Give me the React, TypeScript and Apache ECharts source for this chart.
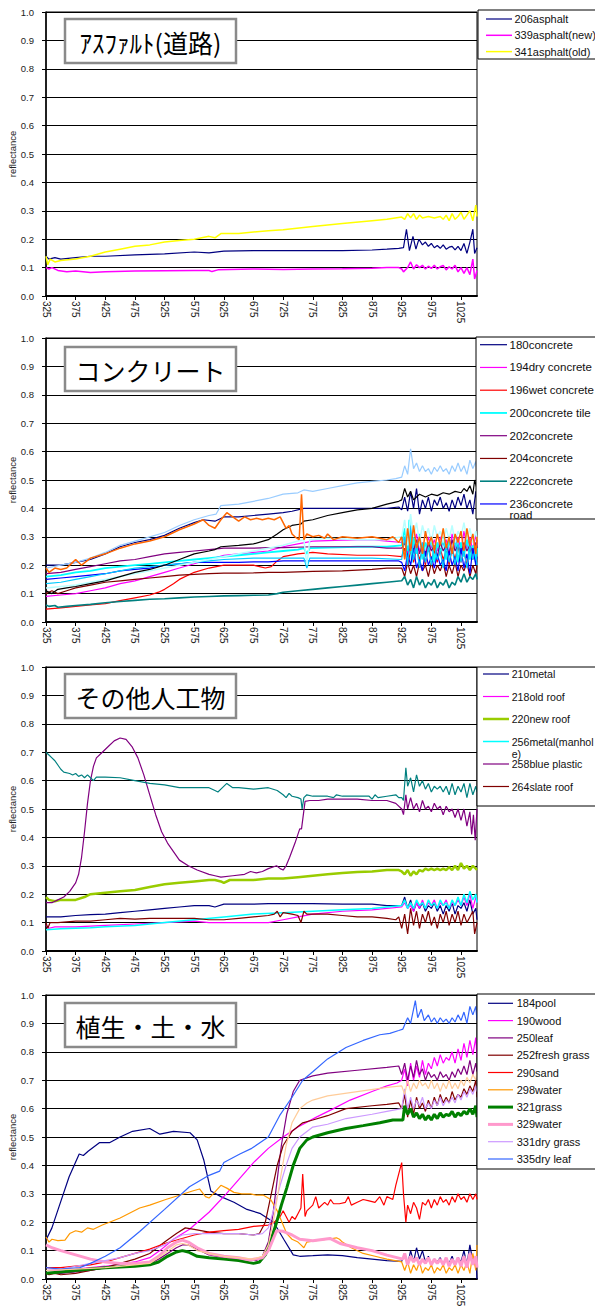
import React, { useEffect, useRef } from "react";
import * as echarts from "echarts";

// ---------- tick labels ----------
const X_TICKS = [325, 375, 425, 475, 525, 575, 625, 675, 725, 775, 825, 875, 925, 975, 1025];
const X_MIN = 325;
const X_MAX = 1052;

// ---------- Panel 1: asphalt ----------
const A206 = [325,0.14, 330,0.13, 340,0.135, 350,0.13, 375,0.135, 400,0.14, 425,0.14, 475,0.145, 525,0.148, 575,0.155, 600,0.152, 625,0.158, 675,0.16, 725,0.16, 775,0.16, 825,0.16, 875,0.162, 900,0.165, 920,0.168, 928,0.17, 933,0.235, 938,0.16, 944,0.21, 949,0.165, 954,0.2, 960,0.18, 965,0.19, 970,0.175, 975,0.185, 980,0.17, 985,0.178, 990,0.168, 995,0.18, 1000,0.165, 1005,0.172, 1010,0.175, 1015,0.162, 1020,0.175, 1025,0.16, 1030,0.185, 1035,0.15, 1040,0.19, 1045,0.235, 1048,0.15, 1052,0.17];
const A339 = [325,0.1, 330,0.095, 335,0.1, 345,0.09, 360,0.085, 375,0.088, 400,0.083, 425,0.085, 475,0.088, 525,0.089, 575,0.09, 600,0.09, 605,0.086, 615,0.092, 675,0.095, 725,0.093, 775,0.095, 825,0.096, 875,0.098, 900,0.1, 920,0.1, 925,0.095, 928,0.085, 935,0.1, 940,0.12, 945,0.095, 950,0.11, 955,0.1, 960,0.108, 965,0.095, 970,0.105, 975,0.097, 980,0.108, 985,0.095, 990,0.103, 995,0.108, 1000,0.092, 1005,0.103, 1010,0.095, 1015,0.108, 1020,0.085, 1025,0.1, 1030,0.08, 1035,0.1, 1040,0.075, 1045,0.13, 1048,0.06, 1052,0.09];
const A341 = [325,0.14, 328,0.11, 332,0.13, 340,0.12, 350,0.125, 375,0.13, 400,0.14, 425,0.155, 450,0.165, 475,0.175, 500,0.18, 525,0.19, 550,0.195, 575,0.2, 600,0.21, 610,0.205, 620,0.22, 650,0.22, 675,0.225, 700,0.23, 725,0.233, 775,0.245, 825,0.255, 875,0.265, 900,0.27, 925,0.278, 930,0.27, 935,0.29, 940,0.275, 945,0.29, 950,0.27, 955,0.285, 960,0.275, 970,0.28, 980,0.275, 990,0.28, 995,0.27, 1000,0.285, 1005,0.265, 1010,0.29, 1015,0.27, 1020,0.28, 1025,0.295, 1030,0.27, 1035,0.285, 1040,0.3, 1045,0.265, 1050,0.32, 1052,0.28];

// ---------- Panel 2: concrete ----------
const C180 = [325,0.2, 350,0.2, 375,0.21, 400,0.22, 425,0.24, 450,0.265, 475,0.28, 500,0.29, 525,0.305, 550,0.33, 575,0.35, 590,0.36, 610,0.355, 625,0.37, 650,0.37, 675,0.375, 700,0.38, 725,0.385, 740,0.39, 760,0.4, 800,0.4, 850,0.4, 900,0.4, 920,0.405, 925,0.395, 930,0.44, 935,0.39, 940,0.46, 945,0.4, 950,0.47, 955,0.38, 960,0.43, 965,0.4, 970,0.44, 975,0.39, 980,0.43, 985,0.41, 990,0.44, 995,0.4, 1000,0.42, 1005,0.39, 1010,0.43, 1015,0.4, 1020,0.44, 1025,0.41, 1030,0.45, 1035,0.4, 1040,0.43, 1045,0.38, 1050,0.46, 1052,0.42];
const C194 = [325,0.09, 350,0.095, 375,0.1, 400,0.11, 425,0.12, 450,0.135, 475,0.145, 500,0.16, 525,0.175, 550,0.19, 575,0.205, 600,0.22, 625,0.235, 650,0.24, 675,0.245, 700,0.25, 725,0.265, 750,0.275, 775,0.285, 825,0.288, 875,0.29, 900,0.285, 925,0.28, 930,0.3, 935,0.24, 940,0.29, 945,0.26, 950,0.31, 955,0.25, 960,0.28, 965,0.24, 970,0.3, 975,0.26, 980,0.29, 985,0.25, 990,0.3, 995,0.27, 1000,0.29, 1005,0.24, 1010,0.31, 1015,0.26, 1020,0.3, 1025,0.25, 1030,0.32, 1035,0.26, 1040,0.3, 1045,0.25, 1050,0.31, 1052,0.27];
const C196 = [325,0.045, 350,0.05, 375,0.055, 400,0.06, 425,0.065, 450,0.075, 475,0.085, 500,0.095, 515,0.105, 525,0.115, 540,0.135, 550,0.15, 575,0.175, 600,0.19, 625,0.2, 650,0.2, 675,0.2, 685,0.195, 695,0.19, 705,0.195, 715,0.215, 725,0.23, 750,0.24, 775,0.245, 800,0.24, 850,0.235, 900,0.235, 925,0.23, 930,0.26, 935,0.2, 940,0.25, 945,0.21, 950,0.26, 955,0.22, 960,0.25, 965,0.2, 970,0.27, 975,0.22, 980,0.25, 985,0.21, 990,0.26, 995,0.22, 1000,0.25, 1005,0.2, 1010,0.26, 1015,0.22, 1020,0.27, 1025,0.21, 1030,0.25, 1035,0.2, 1040,0.26, 1045,0.22, 1050,0.25, 1052,0.21];
const C200 = [325,0.16, 350,0.165, 375,0.175, 400,0.18, 425,0.19, 450,0.195, 475,0.2, 500,0.205, 525,0.21, 550,0.215, 575,0.22, 600,0.225, 625,0.23, 650,0.235, 675,0.24, 700,0.245, 725,0.25, 750,0.255, 760,0.26, 765,0.24, 770,0.26, 800,0.262, 850,0.265, 900,0.265, 925,0.27, 930,0.33, 935,0.25, 938,0.36, 942,0.21, 945,0.3, 950,0.24, 955,0.31, 960,0.22, 965,0.28, 970,0.25, 975,0.3, 980,0.21, 985,0.28, 990,0.24, 995,0.3, 1000,0.22, 1005,0.29, 1010,0.24, 1015,0.3, 1020,0.21, 1025,0.28, 1030,0.23, 1035,0.3, 1040,0.22, 1045,0.27, 1050,0.21, 1052,0.26];
const C202 = [325,0.17, 350,0.175, 375,0.185, 400,0.195, 425,0.205, 450,0.215, 475,0.22, 500,0.23, 525,0.24, 550,0.245, 575,0.25, 600,0.255, 625,0.26, 650,0.26, 675,0.26, 700,0.262, 725,0.262, 775,0.265, 825,0.265, 875,0.265, 900,0.26, 925,0.26, 930,0.28, 935,0.23, 940,0.27, 945,0.25, 950,0.29, 955,0.24, 960,0.27, 965,0.23, 970,0.28, 975,0.25, 980,0.27, 985,0.23, 990,0.28, 995,0.25, 1000,0.27, 1005,0.24, 1010,0.29, 1015,0.25, 1020,0.27, 1025,0.24, 1030,0.28, 1035,0.25, 1040,0.27, 1045,0.24, 1050,0.28, 1052,0.26];
const C204 = [325,0.1, 335,0.11, 345,0.1, 360,0.11, 375,0.12, 400,0.13, 425,0.14, 450,0.145, 475,0.15, 500,0.155, 525,0.16, 550,0.165, 575,0.168, 600,0.17, 625,0.172, 650,0.172, 675,0.173, 700,0.175, 725,0.175, 775,0.178, 825,0.18, 875,0.185, 900,0.19, 925,0.19, 930,0.16, 935,0.21, 940,0.17, 945,0.2, 950,0.16, 955,0.21, 960,0.18, 965,0.2, 970,0.16, 975,0.21, 980,0.17, 985,0.2, 990,0.18, 995,0.21, 1000,0.16, 1005,0.2, 1010,0.17, 1015,0.21, 1020,0.16, 1025,0.2, 1030,0.18, 1035,0.21, 1040,0.16, 1045,0.2, 1050,0.17, 1052,0.2];
const C222 = [325,0.06, 330,0.055, 340,0.058, 345,0.052, 360,0.055, 375,0.058, 400,0.062, 425,0.068, 450,0.072, 475,0.076, 500,0.08, 525,0.082, 550,0.085, 575,0.088, 600,0.09, 625,0.092, 650,0.093, 675,0.094, 700,0.095, 715,0.1, 725,0.105, 750,0.11, 775,0.115, 800,0.12, 825,0.125, 850,0.13, 875,0.135, 900,0.14, 925,0.145, 930,0.16, 935,0.13, 940,0.15, 945,0.12, 950,0.16, 955,0.13, 960,0.15, 965,0.12, 970,0.14, 975,0.13, 980,0.15, 985,0.12, 990,0.14, 995,0.13, 1000,0.15, 1005,0.12, 1010,0.14, 1015,0.13, 1020,0.16, 1025,0.14, 1030,0.17, 1035,0.14, 1040,0.16, 1045,0.15, 1050,0.17, 1052,0.15];
const C236 = [325,0.15, 350,0.155, 375,0.16, 400,0.165, 425,0.17, 450,0.18, 475,0.185, 500,0.19, 525,0.2, 550,0.205, 575,0.21, 600,0.21, 625,0.21, 650,0.21, 675,0.212, 700,0.212, 725,0.215, 775,0.215, 825,0.215, 875,0.215, 920,0.215, 925,0.21, 930,0.18, 935,0.24, 940,0.2, 945,0.26, 950,0.19, 955,0.22, 960,0.18, 965,0.25, 970,0.2, 975,0.23, 980,0.19, 985,0.24, 990,0.2, 995,0.22, 1000,0.18, 1005,0.25, 1010,0.2, 1015,0.23, 1020,0.18, 1025,0.26, 1030,0.19, 1035,0.24, 1040,0.17, 1045,0.26, 1050,0.2, 1052,0.23];
const C_ORANGE = [325,0.19, 330,0.175, 340,0.19, 350,0.185, 360,0.19, 370,0.21, 375,0.22, 385,0.2, 400,0.225, 425,0.24, 450,0.26, 475,0.275, 500,0.285, 525,0.3, 550,0.325, 575,0.345, 590,0.36, 600,0.34, 610,0.33, 620,0.36, 630,0.385, 640,0.37, 650,0.355, 660,0.37, 670,0.36, 680,0.365, 690,0.36, 700,0.365, 710,0.36, 720,0.37, 725,0.35, 730,0.33, 735,0.34, 740,0.31, 745,0.3, 752,0.29, 756,0.45, 760,0.29, 765,0.31, 775,0.3, 785,0.305, 795,0.295, 800,0.31, 810,0.29, 825,0.3, 850,0.295, 875,0.3, 900,0.29, 910,0.3, 920,0.28, 925,0.3, 930,0.22, 935,0.33, 940,0.25, 945,0.34, 950,0.26, 955,0.3, 960,0.24, 965,0.32, 970,0.27, 975,0.3, 980,0.25, 985,0.31, 990,0.27, 995,0.33, 1000,0.26, 1005,0.3, 1010,0.24, 1015,0.31, 1020,0.28, 1025,0.32, 1030,0.25, 1035,0.33, 1040,0.27, 1045,0.31, 1050,0.24, 1052,0.3];
const C_PALEBLUE = [325,0.19, 350,0.2, 375,0.21, 400,0.225, 425,0.245, 450,0.27, 475,0.285, 500,0.3, 525,0.315, 550,0.34, 575,0.36, 600,0.375, 612,0.38, 620,0.41, 650,0.415, 675,0.425, 700,0.435, 725,0.45, 750,0.455, 760,0.465, 775,0.46, 800,0.47, 825,0.48, 850,0.49, 875,0.495, 900,0.5, 915,0.505, 925,0.51, 930,0.55, 935,0.52, 940,0.61, 945,0.54, 950,0.56, 955,0.53, 960,0.55, 965,0.53, 970,0.54, 975,0.52, 980,0.545, 985,0.53, 990,0.55, 995,0.53, 1000,0.54, 1005,0.52, 1010,0.55, 1015,0.53, 1020,0.56, 1025,0.53, 1030,0.55, 1035,0.52, 1040,0.57, 1045,0.54, 1050,0.565, 1052,0.53];
const C_BLACK = [325,0.11, 335,0.1, 345,0.115, 360,0.12, 375,0.125, 400,0.135, 425,0.145, 450,0.16, 475,0.175, 500,0.185, 525,0.2, 550,0.22, 575,0.24, 600,0.25, 610,0.255, 620,0.265, 650,0.27, 675,0.275, 700,0.29, 715,0.31, 725,0.325, 740,0.34, 755,0.345, 760,0.355, 775,0.36, 800,0.375, 825,0.385, 850,0.395, 875,0.4, 900,0.415, 920,0.425, 925,0.43, 930,0.47, 935,0.44, 940,0.46, 945,0.43, 950,0.44, 955,0.45, 965,0.44, 975,0.45, 985,0.445, 995,0.455, 1005,0.45, 1015,0.46, 1025,0.455, 1030,0.47, 1035,0.46, 1040,0.48, 1045,0.45, 1048,0.5, 1052,0.47];
const C_SKY = [325,0.135, 350,0.14, 375,0.15, 400,0.16, 425,0.17, 450,0.18, 475,0.19, 500,0.195, 525,0.2, 550,0.205, 575,0.21, 600,0.215, 625,0.22, 675,0.225, 725,0.225, 760,0.225, 765,0.19, 770,0.225, 825,0.225, 875,0.225, 925,0.22, 930,0.3, 935,0.2, 940,0.34, 945,0.22, 950,0.27, 955,0.19, 960,0.28, 965,0.21, 970,0.26, 975,0.2, 980,0.27, 985,0.22, 990,0.25, 995,0.19, 1000,0.27, 1005,0.21, 1010,0.26, 1015,0.2, 1020,0.28, 1025,0.21, 1030,0.25, 1035,0.19, 1040,0.27, 1045,0.22, 1050,0.26, 1052,0.2];
const C_PALECYAN = [325,0.12, 350,0.125, 375,0.13, 400,0.14, 450,0.16, 500,0.18, 550,0.2, 600,0.22, 650,0.24, 700,0.26, 725,0.27, 750,0.285, 760,0.29, 765,0.2, 770,0.29, 800,0.295, 850,0.29, 900,0.29, 925,0.3, 930,0.36, 935,0.27, 940,0.38, 945,0.3, 950,0.35, 955,0.28, 960,0.34, 965,0.3, 970,0.33, 975,0.28, 980,0.34, 985,0.3, 990,0.32, 995,0.28, 1000,0.33, 1005,0.29, 1010,0.34, 1015,0.28, 1020,0.32, 1025,0.3, 1030,0.35, 1035,0.29, 1040,0.33, 1045,0.28, 1050,0.32, 1052,0.29];

// ---------- Panel 3: other man-made ----------
const M210 = [325,0.12, 350,0.12, 375,0.125, 400,0.128, 425,0.13, 450,0.135, 475,0.14, 500,0.145, 525,0.15, 550,0.155, 575,0.16, 600,0.16, 610,0.155, 625,0.165, 650,0.165, 675,0.165, 700,0.167, 725,0.167, 775,0.167, 825,0.165, 875,0.165, 900,0.16, 925,0.16, 930,0.19, 935,0.15, 940,0.18, 945,0.14, 950,0.17, 955,0.15, 960,0.17, 965,0.14, 970,0.16, 975,0.15, 980,0.17, 985,0.14, 990,0.16, 995,0.13, 1000,0.16, 1005,0.14, 1010,0.17, 1015,0.13, 1020,0.16, 1025,0.15, 1030,0.17, 1035,0.14, 1040,0.18, 1045,0.13, 1050,0.15, 1052,0.11];
const M218 = [325,0.09, 330,0.08, 340,0.085, 375,0.085, 425,0.09, 475,0.095, 525,0.1, 575,0.105, 600,0.1, 625,0.1, 675,0.1, 700,0.1, 725,0.11, 750,0.12, 775,0.13, 825,0.14, 875,0.145, 900,0.15, 925,0.155, 930,0.17, 935,0.15, 940,0.16, 945,0.14, 950,0.17, 955,0.15, 960,0.18, 965,0.15, 970,0.17, 975,0.16, 980,0.18, 985,0.15, 990,0.17, 995,0.16, 1000,0.18, 1005,0.15, 1010,0.17, 1015,0.16, 1020,0.18, 1025,0.16, 1030,0.19, 1035,0.16, 1040,0.2, 1045,0.15, 1050,0.19, 1052,0.17];
const M220 = [325,0.19, 330,0.18, 340,0.175, 350,0.18, 375,0.18, 390,0.19, 400,0.2, 425,0.205, 450,0.21, 475,0.215, 500,0.225, 525,0.235, 550,0.24, 575,0.245, 600,0.25, 610,0.25, 620,0.245, 625,0.24, 635,0.25, 650,0.25, 675,0.25, 700,0.255, 725,0.255, 750,0.26, 775,0.265, 800,0.27, 825,0.275, 850,0.278, 875,0.28, 900,0.285, 920,0.285, 925,0.28, 930,0.27, 935,0.285, 940,0.265, 945,0.28, 950,0.27, 955,0.285, 960,0.28, 965,0.29, 970,0.285, 975,0.29, 980,0.285, 985,0.29, 990,0.285, 995,0.29, 1000,0.285, 1005,0.295, 1010,0.285, 1015,0.3, 1020,0.285, 1025,0.31, 1030,0.29, 1035,0.3, 1040,0.285, 1045,0.3, 1050,0.29, 1052,0.285];
const M256 = [325,0.075, 350,0.078, 375,0.08, 400,0.082, 425,0.085, 475,0.09, 525,0.1, 575,0.11, 625,0.12, 675,0.13, 725,0.135, 775,0.14, 825,0.145, 875,0.15, 900,0.155, 925,0.16, 930,0.18, 935,0.15, 940,0.17, 945,0.15, 950,0.18, 955,0.16, 960,0.17, 965,0.15, 970,0.18, 975,0.16, 980,0.17, 985,0.15, 990,0.18, 995,0.16, 1000,0.17, 1005,0.15, 1010,0.18, 1015,0.16, 1020,0.19, 1025,0.16, 1030,0.2, 1035,0.17, 1040,0.21, 1045,0.18, 1050,0.2, 1052,0.17];
const M258 = [325,0.17, 335,0.17, 345,0.18, 355,0.19, 365,0.21, 375,0.24, 380,0.27, 385,0.33, 390,0.42, 395,0.52, 400,0.6, 405,0.65, 410,0.68, 420,0.7, 430,0.72, 440,0.74, 450,0.75, 460,0.745, 470,0.72, 480,0.68, 490,0.62, 500,0.55, 510,0.48, 520,0.42, 530,0.38, 540,0.35, 550,0.32, 565,0.3, 580,0.285, 600,0.27, 610,0.265, 620,0.26, 640,0.265, 660,0.27, 670,0.28, 680,0.275, 690,0.28, 700,0.29, 714,0.3, 720,0.29, 725,0.285, 730,0.3, 736,0.33, 745,0.38, 753,0.43, 756,0.43, 762,0.527, 770,0.53, 785,0.53, 800,0.535, 825,0.535, 850,0.535, 875,0.53, 900,0.53, 915,0.52, 925,0.5, 928,0.48, 932,0.55, 935,0.5, 940,0.54, 945,0.5, 950,0.52, 955,0.49, 960,0.53, 965,0.5, 970,0.51, 975,0.49, 980,0.52, 985,0.5, 990,0.51, 995,0.48, 1000,0.51, 1005,0.49, 1010,0.5, 1015,0.47, 1020,0.5, 1025,0.46, 1030,0.5, 1035,0.44, 1040,0.49, 1043,0.41, 1046,0.48, 1049,0.39, 1052,0.5];
const M264 = [325,0.1, 328,0.08, 332,0.1, 345,0.1, 375,0.105, 400,0.105, 425,0.11, 450,0.115, 475,0.112, 500,0.115, 525,0.115, 550,0.115, 575,0.115, 600,0.11, 625,0.11, 650,0.115, 675,0.12, 700,0.125, 710,0.13, 715,0.14, 720,0.12, 725,0.135, 740,0.13, 750,0.125, 755,0.1, 760,0.14, 765,0.13, 775,0.13, 800,0.13, 825,0.125, 850,0.12, 875,0.12, 900,0.115, 915,0.11, 920,0.12, 925,0.08, 930,0.13, 935,0.06, 940,0.15, 945,0.09, 950,0.14, 955,0.08, 960,0.13, 965,0.1, 970,0.14, 975,0.09, 980,0.12, 985,0.08, 990,0.13, 995,0.1, 1000,0.14, 1005,0.09, 1010,0.13, 1015,0.1, 1020,0.14, 1025,0.09, 1030,0.13, 1035,0.1, 1040,0.12, 1045,0.14, 1048,0.06, 1052,0.1];
const M_TEAL = [325,0.7, 330,0.69, 335,0.68, 340,0.67, 345,0.655, 350,0.64, 355,0.63, 365,0.625, 370,0.62, 375,0.625, 380,0.615, 385,0.62, 390,0.61, 395,0.62, 400,0.61, 405,0.6, 410,0.612, 425,0.612, 450,0.61, 475,0.6, 500,0.59, 525,0.585, 550,0.575, 575,0.575, 600,0.575, 610,0.565, 615,0.56, 620,0.57, 630,0.59, 640,0.575, 650,0.575, 675,0.57, 700,0.575, 715,0.565, 725,0.55, 730,0.54, 735,0.555, 740,0.545, 750,0.54, 755,0.535, 757,0.5, 760,0.54, 765,0.55, 775,0.545, 800,0.545, 810,0.54, 815,0.55, 825,0.545, 850,0.545, 870,0.545, 875,0.535, 880,0.55, 885,0.54, 900,0.545, 915,0.55, 920,0.54, 925,0.54, 928,0.53, 932,0.645, 935,0.58, 940,0.61, 945,0.56, 950,0.62, 955,0.58, 960,0.6, 965,0.57, 970,0.59, 975,0.56, 980,0.58, 985,0.57, 990,0.58, 995,0.56, 1000,0.58, 1005,0.55, 1010,0.59, 1015,0.55, 1020,0.58, 1025,0.56, 1030,0.59, 1035,0.54, 1040,0.59, 1045,0.55, 1050,0.58, 1052,0.56];

// ---------- Panel 4: vegetation, soil, water ----------
const V184 = [325,0.137, 335,0.18, 347,0.255, 364,0.36, 381,0.44, 388,0.435, 396,0.45, 415,0.48, 432,0.48, 450,0.5, 471,0.52, 500,0.53, 517,0.51, 540,0.52, 568,0.515, 580,0.49, 591,0.42, 603,0.31, 620,0.29, 642,0.27, 664,0.245, 687,0.23, 709,0.2, 726,0.14, 742,0.085, 753,0.08, 775,0.082, 800,0.085, 825,0.082, 850,0.075, 875,0.07, 900,0.065, 925,0.062, 930,0.09, 935,0.05, 940,0.1, 945,0.06, 950,0.11, 955,0.07, 960,0.1, 965,0.06, 970,0.08, 975,0.05, 980,0.07, 985,0.06, 990,0.075, 995,0.05, 1000,0.07, 1005,0.055, 1010,0.08, 1015,0.05, 1020,0.075, 1025,0.06, 1030,0.1, 1035,0.05, 1040,0.12, 1045,0.06, 1050,0.08, 1052,0.0];
const V190 = [325,0.03, 375,0.035, 425,0.045, 475,0.06, 500,0.075, 517,0.1, 540,0.14, 567,0.175, 600,0.235, 629,0.3, 650,0.35, 675,0.41, 700,0.46, 725,0.5, 750,0.535, 781,0.57, 810,0.6, 838,0.63, 875,0.66, 900,0.68, 917,0.69, 925,0.7, 930,0.74, 935,0.68, 940,0.76, 945,0.7, 950,0.75, 955,0.71, 960,0.77, 965,0.72, 970,0.76, 975,0.74, 980,0.78, 985,0.75, 990,0.79, 995,0.76, 1000,0.78, 1005,0.77, 1010,0.8, 1015,0.76, 1020,0.81, 1025,0.77, 1030,0.83, 1035,0.78, 1040,0.84, 1045,0.79, 1050,0.85, 1052,0.78];
const V250 = [325,0.02, 350,0.02, 375,0.025, 400,0.03, 425,0.04, 450,0.045, 475,0.05, 500,0.055, 515,0.07, 530,0.09, 545,0.11, 555,0.12, 565,0.12, 575,0.11, 600,0.085, 625,0.075, 650,0.07, 680,0.065, 690,0.08, 700,0.13, 708,0.23, 715,0.35, 722,0.47, 731,0.58, 742,0.66, 753,0.7, 775,0.715, 800,0.725, 850,0.735, 900,0.745, 920,0.75, 925,0.72, 930,0.76, 935,0.7, 940,0.75, 945,0.71, 950,0.77, 955,0.72, 960,0.74, 965,0.7, 970,0.73, 975,0.71, 980,0.72, 985,0.7, 990,0.73, 995,0.71, 1000,0.72, 1005,0.7, 1010,0.73, 1015,0.71, 1020,0.74, 1025,0.72, 1030,0.75, 1035,0.72, 1040,0.77, 1045,0.72, 1050,0.76, 1052,0.73];
const V252 = [325,0.02, 330,0.015, 340,0.02, 350,0.015, 375,0.02, 400,0.03, 425,0.04, 450,0.055, 475,0.07, 500,0.09, 525,0.13, 545,0.16, 560,0.18, 575,0.175, 600,0.165, 625,0.16, 650,0.16, 675,0.155, 685,0.16, 695,0.2, 705,0.3, 715,0.4, 725,0.47, 740,0.52, 758,0.55, 775,0.56, 800,0.575, 831,0.6, 875,0.61, 900,0.615, 920,0.62, 925,0.6, 930,0.65, 935,0.57, 940,0.63, 945,0.58, 950,0.64, 955,0.6, 960,0.62, 965,0.59, 970,0.63, 975,0.6, 980,0.64, 985,0.61, 990,0.65, 995,0.62, 1000,0.64, 1005,0.62, 1010,0.66, 1015,0.63, 1020,0.65, 1025,0.64, 1030,0.67, 1035,0.65, 1040,0.68, 1045,0.66, 1050,0.7, 1052,0.64];
const V290 = [325,0.04, 350,0.04, 375,0.045, 400,0.05, 425,0.06, 450,0.075, 475,0.09, 500,0.105, 525,0.125, 550,0.14, 575,0.155, 600,0.165, 625,0.17, 650,0.175, 675,0.185, 700,0.19, 710,0.2, 720,0.22, 725,0.24, 730,0.22, 735,0.2, 740,0.22, 745,0.21, 750,0.23, 755,0.25, 758,0.37, 762,0.22, 765,0.24, 775,0.26, 780,0.29, 785,0.25, 795,0.27, 800,0.26, 805,0.28, 810,0.265, 820,0.265, 830,0.27, 835,0.29, 840,0.26, 850,0.27, 860,0.28, 870,0.275, 880,0.27, 888,0.29, 895,0.26, 900,0.29, 910,0.28, 915,0.33, 920,0.37, 925,0.41, 928,0.3, 932,0.2, 935,0.26, 940,0.23, 945,0.27, 950,0.25, 955,0.21, 960,0.27, 965,0.26, 970,0.28, 975,0.25, 980,0.28, 985,0.26, 990,0.29, 995,0.27, 1000,0.28, 1005,0.26, 1010,0.29, 1015,0.27, 1020,0.3, 1025,0.28, 1030,0.29, 1035,0.27, 1040,0.3, 1045,0.28, 1050,0.3, 1052,0.28];
const V298 = [325,0.148, 330,0.13, 335,0.14, 345,0.135, 357,0.137, 365,0.16, 375,0.17, 385,0.165, 395,0.18, 405,0.175, 420,0.19, 432,0.2, 450,0.215, 483,0.25, 500,0.26, 527,0.28, 550,0.295, 572,0.31, 584,0.317, 594,0.29, 600,0.285, 607,0.3, 620,0.33, 630,0.32, 642,0.305, 655,0.3, 670,0.3, 680,0.295, 692,0.295, 704,0.28, 715,0.24, 725,0.19, 731,0.16, 740,0.14, 750,0.13, 755,0.12, 760,0.11, 765,0.13, 780,0.135, 800,0.14, 815,0.145, 820,0.14, 825,0.13, 840,0.11, 860,0.09, 880,0.08, 900,0.07, 925,0.06, 930,0.03, 935,0.06, 940,0.02, 945,0.05, 950,0.03, 955,0.06, 960,0.02, 965,0.04, 970,0.03, 975,0.05, 980,0.02, 985,0.04, 990,0.03, 995,0.05, 1000,0.02, 1005,0.04, 1010,0.03, 1015,0.05, 1020,0.02, 1025,0.05, 1030,0.03, 1035,0.06, 1040,0.02, 1045,0.09, 1050,0.03, 1052,0.12];
const V321 = [325,0.02, 350,0.025, 375,0.03, 400,0.035, 425,0.04, 450,0.042, 475,0.045, 500,0.05, 515,0.06, 530,0.08, 545,0.095, 555,0.1, 565,0.095, 580,0.08, 600,0.075, 625,0.07, 650,0.065, 675,0.055, 685,0.06, 695,0.085, 705,0.14, 714,0.2, 722,0.26, 731,0.32, 742,0.4, 753,0.46, 765,0.49, 775,0.5, 800,0.515, 831,0.53, 860,0.54, 888,0.55, 910,0.56, 927,0.56, 930,0.61, 935,0.58, 940,0.6, 945,0.57, 950,0.585, 955,0.565, 960,0.58, 965,0.56, 970,0.575, 975,0.56, 980,0.58, 985,0.565, 990,0.585, 995,0.57, 1000,0.58, 1005,0.575, 1010,0.59, 1015,0.57, 1020,0.585, 1025,0.575, 1030,0.59, 1035,0.58, 1040,0.6, 1045,0.58, 1050,0.61, 1052,0.57];
const V329 = [325,0.12, 335,0.11, 350,0.1, 375,0.085, 400,0.07, 425,0.06, 450,0.055, 475,0.055, 500,0.06, 515,0.08, 530,0.11, 545,0.13, 555,0.137, 565,0.13, 580,0.11, 600,0.09, 625,0.08, 650,0.075, 669,0.067, 690,0.075, 700,0.1, 714,0.17, 725,0.168, 740,0.155, 753,0.14, 775,0.135, 804,0.143, 821,0.125, 850,0.11, 875,0.1, 900,0.084, 927,0.07, 930,0.09, 935,0.05, 940,0.08, 945,0.06, 950,0.075, 955,0.05, 960,0.07, 965,0.055, 970,0.075, 975,0.05, 980,0.07, 985,0.055, 990,0.07, 995,0.05, 1000,0.075, 1005,0.045, 1010,0.07, 1015,0.05, 1020,0.075, 1025,0.045, 1030,0.08, 1035,0.04, 1040,0.09, 1045,0.05, 1050,0.08, 1052,0.04];
const V331 = [325,0.03, 350,0.035, 375,0.045, 400,0.055, 425,0.065, 450,0.075, 475,0.09, 500,0.1, 525,0.12, 540,0.14, 555,0.155, 575,0.16, 600,0.16, 625,0.16, 650,0.16, 675,0.155, 690,0.16, 700,0.18, 710,0.25, 720,0.33, 730,0.4, 740,0.46, 753,0.5, 775,0.535, 800,0.545, 831,0.565, 875,0.58, 900,0.59, 925,0.6, 930,0.67, 935,0.6, 940,0.64, 945,0.6, 950,0.63, 955,0.61, 960,0.64, 965,0.6, 970,0.62, 975,0.6, 980,0.63, 985,0.61, 990,0.64, 995,0.61, 1000,0.63, 1005,0.62, 1010,0.64, 1015,0.62, 1020,0.65, 1025,0.63, 1030,0.66, 1035,0.64, 1040,0.67, 1045,0.65, 1050,0.68, 1052,0.66];
const V335 = [325,0.04, 350,0.035, 382,0.04, 400,0.055, 425,0.08, 450,0.11, 483,0.167, 525,0.245, 567,0.325, 600,0.365, 618,0.38, 625,0.41, 652,0.44, 672,0.46, 700,0.5, 719,0.575, 740,0.64, 758,0.7, 775,0.73, 800,0.775, 831,0.815, 860,0.84, 888,0.86, 905,0.865, 920,0.875, 927,0.88, 935,0.92, 940,0.9, 948,0.98, 952,0.92, 958,0.95, 963,0.91, 970,0.93, 975,0.905, 980,0.92, 985,0.9, 990,0.92, 995,0.905, 1000,0.915, 1005,0.9, 1010,0.92, 1015,0.905, 1020,0.93, 1025,0.91, 1030,0.94, 1035,0.9, 1040,0.96, 1045,0.93, 1050,0.96, 1052,0.91];
const V_TAN = [325,0.03, 375,0.035, 425,0.04, 475,0.05, 500,0.055, 525,0.09, 545,0.12, 555,0.125, 565,0.12, 580,0.1, 600,0.09, 625,0.08, 650,0.075, 675,0.07, 690,0.08, 700,0.12, 710,0.22, 720,0.35, 730,0.47, 740,0.55, 753,0.6, 765,0.62, 775,0.63, 800,0.645, 850,0.66, 900,0.675, 925,0.68, 930,0.65, 935,0.7, 940,0.66, 945,0.69, 950,0.67, 955,0.7, 960,0.68, 965,0.69, 970,0.67, 975,0.7, 980,0.67, 985,0.69, 990,0.66, 995,0.69, 1000,0.67, 1005,0.7, 1010,0.67, 1015,0.69, 1020,0.67, 1025,0.7, 1030,0.68, 1035,0.71, 1040,0.69, 1045,0.72, 1050,0.7, 1052,0.73];

// ---------- series definitions ----------
type SeriesDef = { name: string; data: number[]; color: string; width: number; legend: boolean };

const PANELS: { title: string; series: SeriesDef[] }[] = [
  {
    title: "ｱｽﾌｧﾙﾄ(道路)",
    series: [
      { name: "206asphalt", data: A206, color: "#000080", width: 1.2, legend: true },
      { name: "339asphalt(new)", data: A339, color: "#ff00ff", width: 1.5, legend: true },
      { name: "341asphalt(old)", data: A341, color: "#ffff00", width: 1.5, legend: true },
    ],
  },
  {
    title: "コンクリート",
    series: [
      { name: "180concrete", data: C180, color: "#000080", width: 1.2, legend: true },
      { name: "194dry concrete", data: C194, color: "#ff00ff", width: 1.2, legend: true },
      { name: "196wet concrete", data: C196, color: "#ff0000", width: 1.2, legend: true },
      { name: "200concrete tile", data: C200, color: "#00ffff", width: 1.8, legend: true },
      { name: "202concrete", data: C202, color: "#800080", width: 1.2, legend: true },
      { name: "204concrete", data: C204, color: "#800000", width: 1.2, legend: true },
      { name: "222concrete", data: C222, color: "#008080", width: 1.6, legend: true },
      { name: "236concrete road", data: C236, color: "#0000ff", width: 1.2, legend: true },
      { name: "c-sky", data: C_SKY, color: "#00ccff", width: 1.2, legend: false },
      { name: "c-palecyan", data: C_PALECYAN, color: "#b8ffff", width: 1.5, legend: false },
      { name: "c-paleblue", data: C_PALEBLUE, color: "#99ccff", width: 1.2, legend: false },
      { name: "c-black", data: C_BLACK, color: "#000000", width: 1.2, legend: false },
      { name: "c-orange", data: C_ORANGE, color: "#ff6600", width: 1.5, legend: false },
    ],
  },
  {
    title: "その他人工物",
    series: [
      { name: "210metal", data: M210, color: "#000080", width: 1.2, legend: true },
      { name: "218old roof", data: M218, color: "#ff00ff", width: 1.2, legend: true },
      { name: "220new roof", data: M220, color: "#99cc00", width: 2.5, legend: true },
      { name: "256metal(manhole)", data: M256, color: "#00ffff", width: 1.5, legend: true },
      { name: "258blue plastic", data: M258, color: "#800080", width: 1.2, legend: true },
      { name: "264slate roof", data: M264, color: "#800000", width: 1.2, legend: true },
      { name: "m-teal", data: M_TEAL, color: "#008080", width: 1.2, legend: false },
    ],
  },
  {
    title: "植生・土・水",
    series: [
      { name: "184pool", data: V184, color: "#000080", width: 1.2, legend: true },
      { name: "190wood", data: V190, color: "#ff00ff", width: 1.2, legend: true },
      { name: "250leaf", data: V250, color: "#800080", width: 1.2, legend: true },
      { name: "252fresh grass", data: V252, color: "#800000", width: 1.2, legend: true },
      { name: "290sand", data: V290, color: "#ff0000", width: 1.2, legend: true },
      { name: "298water", data: V298, color: "#ff9900", width: 1.2, legend: true },
      { name: "321grass", data: V321, color: "#008000", width: 3, legend: true },
      { name: "329water", data: V329, color: "#ff99cc", width: 3, legend: true },
      { name: "331dry grass", data: V331, color: "#cc99ff", width: 1.2, legend: true },
      { name: "335dry leaf", data: V335, color: "#3366ff", width: 1.2, legend: true },
      { name: "v-tan", data: V_TAN, color: "#ffcc99", width: 1.2, legend: false },
    ],
  },
];

// ---------- layout (positions / sizes) ----------
const FONT = '"Liberation Sans", Arial, sans-serif';
const CJK = '"Noto Sans CJK JP", sans-serif';
const GRID_LEFT = 46;
const GRID_WIDTH = 431;
const GRID_HEIGHT = 284;
const LAYOUT = [
  { top: 12, title: [65, 19], leg: { x: 478, y: 10, h: 49, first: 19, step: 16.3, l0: 486, l1: 512, tx: 514.5, fs: 11, lh: 11 } },
  { top: 338, title: [65, 347], leg: { x: 476, y: 337, h: 182, first: 344.7, step: 22.75, l0: 480, l1: 507, tx: 509.5, fs: 11.5, lh: 10.7 } },
  { top: 667, title: [65, 674], leg: { x: 477, y: 667, h: 139, first: 674, step: 22.5, l0: 483, l1: 509, tx: 511.7, fs: 10.6, lh: 12 } },
  { top: 995, title: [65, 1003], leg: { x: 477, y: 994, h: 175, first: 1003.3, step: 17.3, l0: 488, l1: 513, tx: 516.7, fs: 11, lh: 11 } },
];
const LEGEND_LABEL: Record<string, string> = {
  "236concrete road": "236concrete\nroad",
  "256metal(manhole)": "256metal(manhol\ne)",
};

const toPairs = (a: number[]) => {
  const out: number[][] = [];
  for (let i = 0; i < a.length; i += 2) out.push([a[i], a[i + 1]]);
  return out;
};

function buildOption() {
  const grid = LAYOUT.map((l) => ({
    left: GRID_LEFT, top: l.top, width: GRID_WIDTH, height: GRID_HEIGHT,
    containLabel: false, outerBoundsMode: "none",
    show: true, borderColor: "#000", borderWidth: 1, backgroundColor: "transparent",
  }));
  const xAxis = PANELS.map((_, i) => ({
    type: "value", gridIndex: i, min: X_MIN, max: X_MAX,
    axisLine: { show: true, onZero: false, lineStyle: { color: "#000", width: 2 } },
    axisTick: { show: true, customValues: X_TICKS, length: 4, lineStyle: { color: "#000" } },
    axisLabel: {
      customValues: X_TICKS, formatter: (v: number) => String(v), rotate: -90,
      fontSize: 10, color: "#222", margin: 5, fontFamily: FONT,
    },
    splitLine: { show: false },
  }));
  const yAxis = PANELS.map((_, i) => ({
    type: "value", gridIndex: i, min: 0, max: 1, interval: 0.1,
    name: "reflectance", nameLocation: "middle", nameGap: 29, nameRotate: 90, nameMoveOverlap: false,
    nameTextStyle: { fontSize: 9.5, color: "#222", fontFamily: FONT },
    axisLine: { show: true, lineStyle: { color: "#000", width: 1.5 } },
    axisTick: { show: true, length: 4, lineStyle: { color: "#000" } },
    axisLabel: { formatter: (v: number) => v.toFixed(1), fontSize: 9.5, color: "#222", margin: 12, fontFamily: FONT },
    splitLine: { show: true, lineStyle: { color: "#000", width: 1 } },
  }));
  const series: any[] = [];
  PANELS.forEach((p, i) => {
    p.series.forEach((s) => {
      series.push({
        type: "line", name: s.name, xAxisIndex: i, yAxisIndex: i,
        data: toPairs(s.data), showSymbol: false, symbol: "none", silent: true,
        lineStyle: { color: s.color, width: s.width }, itemStyle: { color: s.color },
      });
    });
  });
  const graphic: any[] = [];
  PANELS.forEach((p, i) => {
    const l = LAYOUT[i];
    graphic.push({
      type: "rect", z: 100,
      shape: { x: l.title[0], y: l.title[1], width: 171, height: 44 },
      style: { fill: "#fff", stroke: "#8a8a8a", lineWidth: 2.5 },
    });
    graphic.push({
      type: "text", z: 101, x: l.title[0] + 85.5, y: l.title[1] + 23,
      style: { text: p.title, fontSize: 25, fontFamily: CJK, fill: "#000", align: "center", verticalAlign: "middle" },
    });
    const g = l.leg;
    graphic.push({
      type: "rect", z: 100,
      shape: { x: g.x, y: g.y, width: 140, height: g.h },
      style: { fill: "#fff", stroke: "#000", lineWidth: 1 },
    });
    p.series.filter((s) => s.legend).forEach((s, k) => {
      const cy = g.first + k * g.step;
      graphic.push({
        type: "line", z: 101,
        shape: { x1: g.l0, y1: cy, x2: g.l1, y2: cy },
        style: { stroke: s.color, lineWidth: Math.max(1.2, s.width) },
      });
      const label = LEGEND_LABEL[s.name] || s.name;
      graphic.push({
        type: "text", z: 101, x: g.tx, y: cy - g.lh / 2,
        style: { text: label, fontSize: g.fs, fontFamily: FONT, fill: "#111", align: "left", verticalAlign: "top", lineHeight: g.lh },
      });
    });
  });
  return { animation: false, grid, xAxis, yAxis, series, graphic };
}

export default function App() {
  const ref = useRef<HTMLDivElement>(null);
  useEffect(() => {
    document.body.style.margin = "0";
    if (!ref.current) return;
    const chart = echarts.init(ref.current, null, { renderer: "svg" });
    chart.setOption(buildOption() as any);
    return () => chart.dispose();
  }, []);
  return <div ref={ref} style={{ width: 595, height: 1306, background: "#fff", overflow: "hidden" }} />;
}
